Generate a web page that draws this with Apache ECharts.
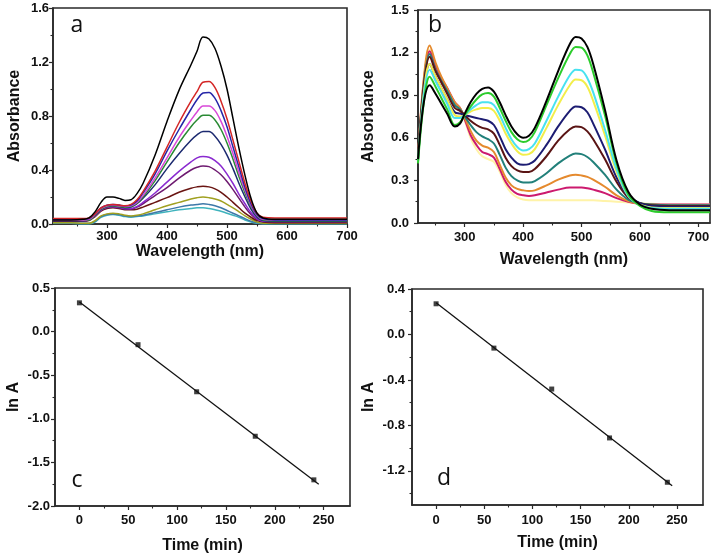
<!DOCTYPE html>
<html>
<head>
<meta charset="utf-8">
<script src="https://cdn.jsdelivr.net/npm/echarts@6/dist/echarts.min.js"></script>
<style>html,body{margin:0;padding:0;background:#fff}#c{width:714px;height:554px}</style>
</head>
<body>
<div id="c"></div>
<script>
// ---------- Panel a: UV-vis spectra ----------
const WL_A = [210,240,260,270,280,290,300,310,320,330,340,350,360,380,400,420,440,450,460,470,480,490,500,510,520,530,540,550,560,580,620,700];
const A_BLACK  = [0.03,0.03,0.035,0.045,0.09,0.16,0.20,0.20,0.19,0.175,0.18,0.225,0.30,0.51,0.76,0.99,1.18,1.28,1.385,1.37,1.30,1.17,1.00,0.78,0.56,0.36,0.19,0.08,0.045,0.035,0.035,0.035];
const A_RED    = [0.04,0.04,0.04,0.045,0.075,0.12,0.14,0.145,0.14,0.135,0.145,0.18,0.24,0.39,0.57,0.75,0.91,0.98,1.05,1.055,1.01,0.91,0.78,0.62,0.46,0.30,0.17,0.08,0.05,0.045,0.045,0.045];
const A_BLUE   = [0.035,0.035,0.035,0.04,0.075,0.12,0.14,0.145,0.14,0.135,0.14,0.17,0.23,0.37,0.54,0.70,0.85,0.92,0.97,0.975,0.93,0.84,0.72,0.57,0.42,0.27,0.15,0.07,0.04,0.03,0.03,0.03];
const A_MAGENTA= [0.03,0.03,0.03,0.035,0.07,0.115,0.135,0.14,0.135,0.13,0.135,0.16,0.21,0.34,0.49,0.64,0.77,0.83,0.875,0.875,0.84,0.76,0.65,0.52,0.38,0.25,0.14,0.065,0.035,0.03,0.03,0.03];
const A_GREEN  = [0.03,0.03,0.03,0.03,0.065,0.11,0.13,0.135,0.13,0.125,0.13,0.155,0.20,0.32,0.46,0.60,0.72,0.77,0.805,0.805,0.77,0.70,0.60,0.48,0.35,0.23,0.13,0.06,0.03,0.025,0.025,0.025];
const A_NAVY   = [0.025,0.025,0.025,0.03,0.065,0.11,0.13,0.135,0.13,0.12,0.125,0.15,0.19,0.29,0.41,0.52,0.62,0.66,0.685,0.685,0.65,0.59,0.51,0.41,0.30,0.20,0.11,0.05,0.025,0.02,0.02,0.02];
const A_VIOLET = [0.03,0.03,0.025,0.03,0.06,0.105,0.125,0.13,0.125,0.115,0.115,0.13,0.16,0.23,0.31,0.39,0.46,0.49,0.50,0.495,0.47,0.43,0.37,0.30,0.22,0.15,0.085,0.04,0.02,0.02,0.02,0.02];
const A_PURPLE = [0.025,0.025,0.025,0.03,0.06,0.10,0.12,0.125,0.12,0.11,0.11,0.125,0.15,0.21,0.27,0.34,0.40,0.42,0.43,0.425,0.40,0.365,0.315,0.255,0.19,0.125,0.07,0.035,0.02,0.015,0.015,0.015];
const A_BROWN  = [0.02,0.02,0.02,0.025,0.055,0.095,0.115,0.12,0.115,0.105,0.105,0.11,0.125,0.16,0.195,0.235,0.265,0.275,0.28,0.275,0.26,0.235,0.20,0.16,0.12,0.08,0.05,0.025,0.015,0.01,0.01,0.01];
const A_OLIVE  = [0.01,0.01,0.005,0.005,0.025,0.06,0.075,0.08,0.075,0.065,0.06,0.065,0.075,0.105,0.135,0.16,0.185,0.195,0.20,0.195,0.185,0.17,0.145,0.12,0.09,0.06,0.035,0.015,0.005,0.005,0.005,0.005];
const A_STEEL  = [0.01,0.01,0.005,0.005,0.02,0.055,0.07,0.075,0.07,0.06,0.055,0.06,0.065,0.085,0.105,0.125,0.14,0.145,0.15,0.145,0.135,0.12,0.10,0.08,0.06,0.04,0.02,0.01,0.005,0.005,0.005,0.005];
const A_TEAL   = [0.005,0.005,0.0,0.0,0.015,0.05,0.065,0.07,0.065,0.055,0.05,0.055,0.06,0.075,0.09,0.105,0.115,0.12,0.12,0.115,0.105,0.095,0.08,0.065,0.05,0.03,0.015,0.005,0.0,0.0,0.0,0.0];
const A_CURVES = [A_TEAL,A_STEEL,A_OLIVE,A_BROWN,A_PURPLE,A_VIOLET,A_NAVY,A_GREEN,A_MAGENTA,A_BLUE,A_RED,A_BLACK];
const A_COLORS = ['#3fb3bd','#3d78a8','#a0a020','#6a1512','#6e1a70','#8a2ad0','#1c2a70','#2a8a34','#d848d8','#2626a8','#d42626','#000000'];

// ---------- Panel b: UV-vis spectra ----------
const WL_B = [220,230,240,250,260,270,283,292,300,310,320,330,340,350,360,370,380,390,400,410,420,440,460,480,490,500,510,520,540,560,580,600,620,650,700,720];
const B_BLACK  = [0.45,0.85,0.97,0.91,0.84,0.77,0.68,0.70,0.77,0.85,0.91,0.945,0.955,0.925,0.85,0.76,0.68,0.625,0.60,0.615,0.67,0.86,1.07,1.26,1.31,1.30,1.24,1.12,0.80,0.44,0.22,0.13,0.10,0.09,0.09,0.09];
const B_GREEN  = [0.42,0.85,1.03,0.96,0.88,0.80,0.69,0.71,0.76,0.82,0.87,0.905,0.915,0.89,0.81,0.72,0.64,0.59,0.57,0.585,0.64,0.83,1.02,1.19,1.24,1.235,1.18,1.06,0.76,0.42,0.20,0.12,0.085,0.075,0.075,0.075];
const B_CYAN   = [0.43,0.90,1.08,1.00,0.92,0.84,0.74,0.74,0.76,0.80,0.83,0.85,0.85,0.83,0.76,0.67,0.59,0.535,0.51,0.52,0.56,0.72,0.89,1.04,1.08,1.075,1.02,0.92,0.66,0.38,0.19,0.125,0.105,0.10,0.10,0.10];
const B_YELLOW = [0.43,0.92,1.12,1.03,0.95,0.87,0.76,0.75,0.76,0.785,0.80,0.81,0.81,0.79,0.72,0.63,0.56,0.505,0.48,0.485,0.52,0.67,0.83,0.97,1.01,1.005,0.96,0.86,0.62,0.36,0.19,0.13,0.11,0.105,0.105,0.105];
const B_NAVY   = [0.44,0.93,1.12,1.03,0.95,0.87,0.78,0.77,0.76,0.75,0.74,0.73,0.72,0.69,0.61,0.52,0.46,0.42,0.41,0.415,0.44,0.55,0.68,0.79,0.82,0.815,0.78,0.70,0.52,0.32,0.19,0.14,0.12,0.115,0.115,0.115];
const B_MAROON = [0.45,0.97,1.17,1.07,0.99,0.91,0.81,0.79,0.76,0.72,0.69,0.67,0.66,0.63,0.55,0.46,0.40,0.37,0.36,0.36,0.38,0.47,0.58,0.66,0.68,0.675,0.645,0.59,0.45,0.29,0.18,0.14,0.125,0.12,0.12,0.12];
const B_TEAL   = [0.45,0.98,1.19,1.08,1.00,0.93,0.83,0.80,0.75,0.69,0.64,0.61,0.59,0.56,0.48,0.39,0.33,0.30,0.285,0.285,0.295,0.35,0.42,0.475,0.49,0.485,0.465,0.43,0.34,0.235,0.165,0.14,0.13,0.125,0.125,0.125];
const B_ORANGE = [0.46,1.02,1.25,1.13,1.03,0.95,0.85,0.81,0.74,0.65,0.58,0.545,0.53,0.50,0.41,0.32,0.265,0.24,0.23,0.225,0.23,0.265,0.305,0.335,0.34,0.335,0.325,0.305,0.255,0.195,0.155,0.135,0.13,0.125,0.125,0.125];
const B_CRIMSON= [0.46,1.00,1.21,1.11,1.02,0.95,0.85,0.81,0.73,0.62,0.55,0.50,0.485,0.46,0.38,0.29,0.235,0.205,0.195,0.19,0.195,0.215,0.235,0.25,0.25,0.25,0.245,0.235,0.21,0.175,0.15,0.135,0.13,0.13,0.13,0.13];
const B_PALE   = [0.45,1.00,1.22,1.10,1.00,0.93,0.83,0.79,0.72,0.60,0.52,0.47,0.45,0.43,0.36,0.27,0.21,0.18,0.165,0.16,0.16,0.16,0.16,0.16,0.16,0.16,0.16,0.16,0.155,0.15,0.145,0.14,0.135,0.13,0.13,0.13];
const B_CURVES = [B_PALE,B_CRIMSON,B_ORANGE,B_TEAL,B_MAROON,B_NAVY,B_YELLOW,B_CYAN,B_GREEN,B_BLACK];
const B_COLORS = ['#fff3a8','#cc1a6e','#e58a2e','#22807a','#5a1414','#1c1c72','#f2ee4a','#48e2f0','#2ccc2c','#000000'];

// ---------- Panels c, d: kinetics ----------
const TIME = [0,60,120,180,240];
const LNA_C = [0.33,-0.15,-0.69,-1.20,-1.70];
const FIT_C_X = [0,245];
const FIT_C_Y = [0.34,-1.75];
const LNA_D = [0.27,-0.12,-0.48,-0.91,-1.30];
const FIT_D_X = [0,245];
const FIT_D_Y = [0.28,-1.33];

// ---------- Tick labels ----------
const A_XTICKS = [300,400,500,600,700], A_XMINOR = [250,350,450,550,650];
const A_YTICKS = [0,0.4,0.8,1.2,1.6],   A_YMINOR = [0.2,0.6,1.0,1.4];
const B_XTICKS = [300,400,500,600,700], B_XMINOR = [250,350,450,550,650];
const B_YTICKS = [0,0.3,0.6,0.9,1.2,1.5], B_YMINOR = [0.15,0.45,0.75,1.05,1.35];
const C_XTICKS = [0,50,100,150,200,250], C_XMINOR = [25,75,125,175,225];
const C_YTICKS = [-2.0,-1.5,-1.0,-0.5,0.0,0.5], C_YMINOR = [-1.75,-1.25,-0.75,-0.25,0.25];
const D_XTICKS = [0,50,100,150,200,250], D_XMINOR = [25,75,125,175,225];
const D_YTICKS = [-1.2,-0.8,-0.4,0.0,0.4], D_YMINOR = [-1.4,-1.0,-0.6,-0.2,0.2];

const zip = (xs, ys) => xs.map((x, i) => [x, ys[i]]);
const FONT = 'Liberation Sans, Arial, sans-serif';
const AXC = '#2a2a2a';

function mainAxis(grid, pos, min, max, ticks, fmt, name, nameGap, margin) {
  return {
    type: 'value', gridIndex: grid, position: pos, min, max,
    name, nameLocation: 'middle', nameGap,
    nameTextStyle: { fontFamily: FONT, fontWeight: 'bold', fontSize: 16, color: '#111' },
    axisLine: { show: true, onZero: false, lineStyle: { color: AXC, width: 1.6 } },
    axisTick: { show: true, inside: false, length: 4, customValues: ticks, lineStyle: { color: AXC, width: 1.2 } },
    axisLabel: { customValues: ticks, formatter: fmt, margin, fontFamily: FONT, fontWeight: 'bold', fontSize: 13, color: '#111' },
    splitLine: { show: false }
  };
}
function minorAxis(grid, pos, min, max, ticks) {
  return {
    type: 'value', gridIndex: grid, position: pos, min, max,
    axisLine: { show: false, onZero: false },
    axisTick: { show: true, inside: false, length: 2.5, customValues: ticks, lineStyle: { color: AXC, width: 1.1 } },
    axisLabel: { show: false },
    splitLine: { show: false }
  };
}
const f1 = v => v.toFixed(1);
const f0 = v => String(v);

const grids = [
  { left: 53, top: 8, width: 294, height: 216 },
  { left: 418, top: 10, width: 292, height: 213 },
  { left: 55, top: 288, width: 295, height: 218 },
  { left: 412, top: 289, width: 291, height: 216 }
].map(g => Object.assign(g, { show: true, borderColor: AXC, borderWidth: 1.6, backgroundColor: 'transparent', outerBoundsMode: 'none', containLabel: false }));

const xAxis = [
  mainAxis(0, 'bottom', 210, 700, A_XTICKS, f0, 'Wavelength (nm)', 16, 6),
  mainAxis(1, 'bottom', 220, 720, B_XTICKS, f0, 'Wavelength (nm)', 29, 8),
  mainAxis(2, 'bottom', -25, 277, C_XTICKS, f0, 'Time (min)', 32, 8),
  mainAxis(3, 'bottom', -25, 277, D_XTICKS, f0, 'Time (min)', 30, 9),
  minorAxis(0, 'bottom', 210, 700, A_XMINOR),
  minorAxis(1, 'bottom', 220, 720, B_XMINOR),
  minorAxis(2, 'bottom', -25, 277, C_XMINOR),
  minorAxis(3, 'bottom', -25, 277, D_XMINOR)
];
const yAxis = [
  mainAxis(0, 'left', 0, 1.6, A_YTICKS, f1, 'Absorbance', 30, 4),
  mainAxis(1, 'left', 0, 1.5, B_YTICKS, f1, 'Absorbance', 41, 9),
  mainAxis(2, 'left', -2.0, 0.5, C_YTICKS, f1, 'ln A', 33, 5),
  mainAxis(3, 'left', -1.5, 0.4, D_YTICKS, f1, 'ln A', 35, 7),
  minorAxis(0, 'left', 0, 1.6, A_YMINOR),
  minorAxis(1, 'left', 0, 1.5, B_YMINOR),
  minorAxis(2, 'left', -2.0, 0.5, C_YMINOR),
  minorAxis(3, 'left', -1.5, 0.4, D_YMINOR)
];

const series = [];
A_CURVES.forEach((ys, i) => series.push({
  type: 'line', xAxisIndex: 0, yAxisIndex: 0, data: zip(WL_A, ys), smooth: 0.35,
  showSymbol: false, lineStyle: { color: A_COLORS[i], width: 1.5 }, itemStyle: { color: A_COLORS[i] }, z: 2 + i
}));
B_CURVES.forEach((ys, i) => series.push({
  type: 'line', xAxisIndex: 1, yAxisIndex: 1, data: zip(WL_B, ys), smooth: 0.35,
  showSymbol: false, lineStyle: { color: B_COLORS[i], width: 2 }, itemStyle: { color: B_COLORS[i] }, z: 2 + i
}));
[[2, LNA_C, FIT_C_X, FIT_C_Y], [3, LNA_D, FIT_D_X, FIT_D_Y]].forEach(([g, ys, fx, fy]) => {
  series.push({ type: 'line', xAxisIndex: g, yAxisIndex: g, data: zip(fx, fy), showSymbol: false,
    lineStyle: { color: '#111', width: 1.3 }, itemStyle: { color: '#111' } });
  series.push({ type: 'scatter', xAxisIndex: g, yAxisIndex: g, data: zip(TIME, ys), symbol: 'rect',
    symbolSize: 5, itemStyle: { color: '#111' }, z: 5 });
});

const panelLabel = (t, x, y) => ({ type: 'text', x, y, style: { text: t, fontFamily: 'Open Sans, sans-serif', fontSize: 23, fill: '#111', align: 'center', verticalAlign: 'middle' }, z: 100 });

const chart = echarts.init(document.getElementById('c'), null, { renderer: 'canvas' });
chart.setOption({
  animation: false,
  backgroundColor: '#fff',
  grid: grids, xAxis, yAxis, series,
  graphic: [panelLabel('a', 77, 25), panelLabel('b', 435, 25), panelLabel('c', 77, 480), panelLabel('d', 444, 478)]
});
</script>
</body>
</html>
